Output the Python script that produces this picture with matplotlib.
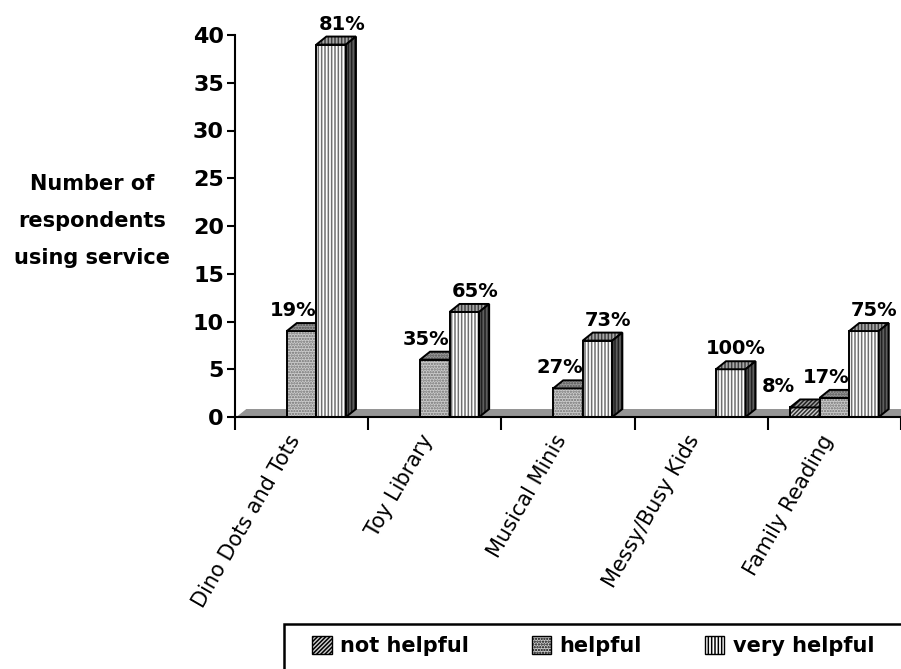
import matplotlib
matplotlib.use("Agg")
import matplotlib.pyplot as plt
from matplotlib.patches import Polygon, Patch, Rectangle
import matplotlib.transforms as mtransforms
import numpy as np

# ---------------- data ----------------
categories = ["Dino Dots and Tots", "Toy Library", "Musical Minis",
              "Messy/Busy Kids", "Family Reading"]
series_names = ["not helpful", "helpful", "very helpful"]
not_helpful = [0, 0, 0, 0, 1]
helpful = [9, 6, 3, 0, 2]
very_helpful = [39, 11, 8, 5, 9]
y_ticks = [0, 5, 10, 15, 20, 25, 30, 35, 40]
y_label = "Number of\nrespondents\nusing service"

series = [not_helpful, helpful, very_helpful]

# ---------------- styles ----------------
styles = [
    dict(front=("#d0d0d0", "////////", "#303030"),
         top=("#a0a0a0", "////////", "#202020"),
         side=("#606060", "////////", "#202020")),
    dict(front=("#cccccc", "......", "#707070"),
         top=("#9a9a9a", "......", "#505050"),
         side=("#606060", "......", "#303030")),
    dict(front=("white", "|||||", "#707070"),
         top=("#a8a8a8", "|||||", "#404040"),
         side=("#5e5e5e", "|||||", "#202020")),
]
plt.rcParams["hatch.linewidth"] = 1.1
FONT = "DejaVu Sans"

W, H = 901, 669
fig = plt.figure(figsize=(W / 100, H / 100), dpi=100)
ax = fig.add_axes([235 / W, 1 - 417 / H, (W - 235) / W, 382 / H])
ncat = len(categories)
ax.set_xlim(0, ncat)
ax.set_ylim(y_ticks[0], y_ticks[-1])

px_x = ncat / (W - 235)
px_y = (y_ticks[-1] - y_ticks[0]) / 382.0
bw = 0.222            # bar width (category units)
dx = 10 * px_x        # depth offset
dy = 8 * px_y

# floor
floor = Polygon([(0, 0), (ncat, 0), (ncat + dx, dy), (dx, dy)], closed=True,
                facecolor="#959595", edgecolor="none", zorder=1, clip_on=False)
ax.add_patch(floor)
ax.plot([0, dx], [0, dy], color="white", lw=1.2, zorder=1.5)


def face(pts, spec, z):
    fc, hatch, hc = spec
    ax.add_patch(Polygon(pts, closed=True, facecolor=fc, edgecolor=hc,
                         hatch=hatch, lw=0, zorder=z))
    ax.add_patch(Polygon(pts, closed=True, facecolor="none",
                         edgecolor="black", lw=1.4, zorder=z + 0.05,
                         joinstyle="miter"))


z = 2
for ci in range(ncat):
    totals = sum(s[ci] for s in series)
    nz = [si for si in range(len(series)) if series[si][ci] > 0]
    for si, s in enumerate(series):
        h = s[ci]
        if h <= 0:
            continue
        x0 = ci + 0.5 + (si - 1) * bw - bw / 2
        st = styles[si]
        face([(x0, 0), (x0 + bw, 0), (x0 + bw, h), (x0, h)], st["front"], z)
        face([(x0, h), (x0 + bw, h), (x0 + bw + dx, h + dy), (x0 + dx, h + dy)],
             st["top"], z + 0.1)
        face([(x0 + bw, 0), (x0 + bw + dx, dy), (x0 + bw + dx, h + dy),
              (x0 + bw, h)], st["side"], z + 0.2)
        z += 1
        pct = "%d%%" % round(h / totals * 100)
        ytxt = h + dy + 3 * px_y
        kw = dict(va="bottom", fontsize=14, fontweight="bold", family=FONT,
                  zorder=50)
        if len(nz) == 1:
            ax.text(x0 + bw / 2 + dx / 2, ytxt, pct, ha="center", **kw)
        elif si == nz[-1]:
            ax.text(x0 + 2 * px_x, ytxt, pct, ha="left", **kw)
        elif si == 0:
            ax.text(x0 + 5 * px_x, ytxt, pct, ha="right", **kw)
        else:
            ax.text(x0 + bw, ytxt, pct, ha="right", **kw)

# axes styling
for sp in ["top", "right"]:
    ax.spines[sp].set_visible(False)
for sp in ["left", "bottom"]:
    ax.spines[sp].set_linewidth(1.5)
    ax.spines[sp].set_zorder(60)
ax.set_yticks(y_ticks)
ax.set_yticklabels([str(t) for t in y_ticks], fontsize=16, fontweight="bold",
                   family=FONT)
ax.tick_params(axis="y", direction="out", length=6, width=1.5, pad=2)
ax.set_xticks(np.arange(ncat + 1))
ax.set_xticklabels([""] * (ncat + 1))
ax.tick_params(axis="x", which="major", direction="out", length=9, width=1.5)
ax.set_xticks(np.arange(ncat) + 0.5, minor=True)
ax.set_xticklabels(categories, minor=True, rotation=60, ha="right",
                   va="center", rotation_mode="anchor", fontsize=15,
                   family=FONT)
ax.tick_params(axis="x", which="minor", length=0, pad=14)
shift = mtransforms.ScaledTranslation(-6 / 100, 0, fig.dpi_scale_trans)
for lab in ax.get_xticklabels(minor=True):
    lab.set_transform(lab.get_transform() + shift)

fig.text(92 / W, 1 - 221 / H, y_label, ha="center", va="center",
         fontsize=15, fontweight="bold", family=FONT, linespacing=2.05)

# legend: frame drawn as a figure rectangle, entries via fig.legend
fig.add_artist(Rectangle((284 / W, 1 - 690 / H), (W + 20 - 284) / W, 66 / H,
                         transform=fig.transFigure, facecolor="white",
                         edgecolor="black", lw=1.8, zorder=5))
handles = [Patch(facecolor=styles[i]["front"][0], hatch=styles[i]["front"][1],
                 edgecolor="black", lw=1.0) for i in range(3)]
leg = fig.legend(handles, series_names, loc="upper left",
                 bbox_to_anchor=(312 / W, 1 - 636 / H), ncol=3,
                 frameon=False, borderaxespad=0, borderpad=0,
                 handlelength=0.95, handleheight=0.95, handletextpad=0.4,
                 columnspacing=3.0,
                 prop=dict(family=FONT, weight="bold", size=15))
leg.set_zorder(10)

fig.savefig("out.png", dpi=100)
